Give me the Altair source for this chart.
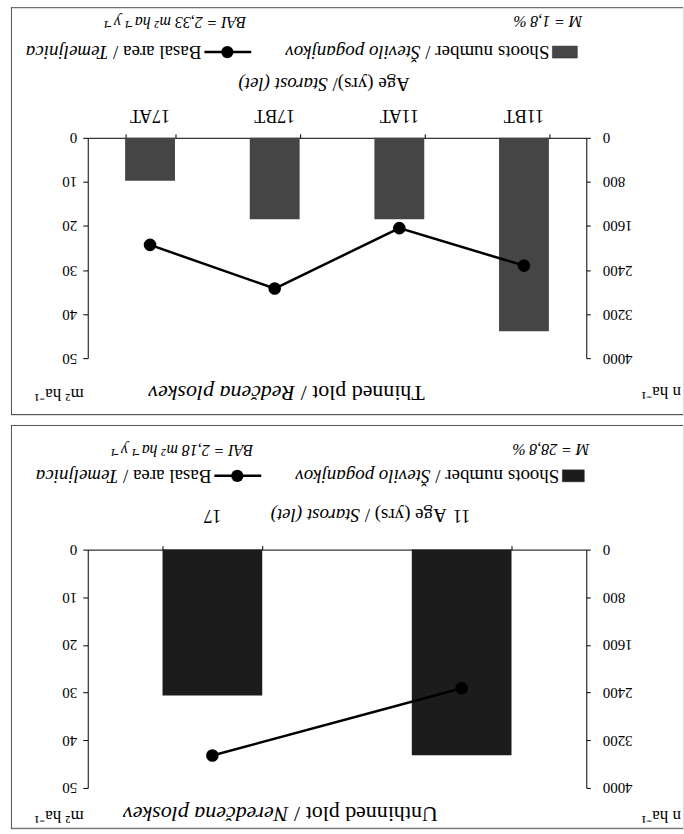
import altair as alt
import pandas as pd

# ---------------- data (as it appears in the picture, left to right) ----------------
top_categories = ["17AT", "17BT", "11AT", "11BT"]
top_shoots = [780, 1480, 1480, 3510]          # Shoots number (n/ha)
top_basal = [24.3, 34.2, 20.5, 29.0]          # Basal area (m2/ha)

bot_categories = ["17", "11"]
bot_shoots = [2450, 3450]
bot_basal = [43.2, 29.1]

shoot_ticks = [0, 800, 1600, 2400, 3200, 4000]
basal_ticks = [0, 10, 20, 30, 40, 50]

SERIF = "Liberation Serif"

W = 674
PLOT_X = [77, 577]

# Times metrics (1/1000 em) for placing mixed regular / italic runs
ROMAN = {' ': 250, '/': 278, '(': 333, ')': 333, '=': 564, ',': 250, '%': 833, '.': 250,
         'A': 722, 'B': 667, 'I': 333, 'M': 889, 'N': 722, 'R': 667, 'S': 556, 'T': 611,
         'U': 722, 'Š': 556, 'a': 444, 'b': 500, 'c': 444, 'd': 500, 'e': 444, 'g': 500,
         'h': 500, 'i': 278, 'j': 278, 'k': 500, 'l': 278, 'm': 778, 'n': 500, 'o': 500,
         'p': 500, 'r': 333, 's': 389, 't': 278, 'u': 500, 'v': 500, 'y': 500, 'č': 444,
         '²': 300, '¹': 300, '⁻': 333}
ITALIC = {' ': 250, '/': 278, '(': 333, ')': 333, '=': 675, ',': 250, '%': 833, '.': 250,
          'A': 611, 'B': 611, 'I': 333, 'M': 833, 'N': 667, 'R': 611, 'S': 500, 'T': 556,
          'Š': 500, 'a': 500, 'e': 444, 'g': 500, 'h': 500, 'i': 278, 'j': 278, 'k': 444,
          'l': 278, 'm': 722, 'n': 500, 'o': 500, 'p': 500, 'r': 389, 's': 389, 't': 278,
          'v': 444, 'y': 444, 'č': 444, '²': 300, '¹': 300, '⁻': 333}


def text_width(txt, italic, size):
    table = ITALIC if italic else ROMAN
    return sum(table.get(ch, 500) for ch in txt) * size / 1000.0


dummy = pd.DataFrame({"d": [0]})


def upside_text(parts, x_right, y, size):
    """Text rotated by 180 degrees; the first run starts at x_right and runs to the left."""
    layers = []
    x = x_right
    for txt, it in parts:
        layers.append(alt.Chart(dummy).mark_text(
            text=txt, angle=180, align="left", baseline="middle", font=SERIF,
            fontSize=size, fontStyle="italic" if it else "normal", color="black"
        ).encode(x=alt.value(x), y=alt.value(y)))
        x -= text_width(txt, it, size)
    return layers


def panel(cats, shoots, basal, H, yr, bar_color, texts, sw, sym):
    df = pd.DataFrame({"cat": cats, "shoots": shoots, "basal": basal})
    xscale = alt.Scale(domain=cats, range=PLOT_X, paddingInner=0.6, paddingOuter=0.3)
    xenc = alt.X("cat:N", scale=xscale, sort=cats,
                 axis=alt.Axis(orient="top", offset=-yr[0], labels=False, title=None,
                               ticks=True, tickBand="extent", tickSize=4, tickColor="black",
                               domainColor="black", grid=False))
    base = alt.Chart(df)
    bars = base.mark_bar(color=bar_color).encode(
        x=xenc,
        y=alt.Y("shoots:Q", scale=alt.Scale(domain=[0, 4000], range=yr, nice=False),
                axis=alt.Axis(orient="right", offset=-(W - PLOT_X[1]), values=shoot_ticks,
                              format="d", labelAngle=180, labelAlign="right",
                              labelBaseline="middle", labelFont=SERIF, labelFontSize=15,
                              labelColor="black", labelPadding=12, tickSize=4,
                              tickColor="black", domainColor="black", grid=False, title=None)),
    )
    line = base.mark_line(color="black", strokeWidth=2.5,
                          point=alt.OverlayMarkDef(filled=True, size=160, color="black")).encode(
        x=alt.X("cat:N", scale=xscale, sort=cats),
        y=alt.Y("basal:Q", scale=alt.Scale(domain=[0, 50], range=yr, nice=False),
                axis=alt.Axis(orient="left", offset=-PLOT_X[0], values=basal_ticks,
                              format="d", labelAngle=180, labelAlign="left",
                              labelBaseline="middle", labelFont=SERIF, labelFontSize=15,
                              labelColor="black", labelPadding=6, tickSize=5,
                              tickColor="black", domainColor="black", grid=False, title=None)),
    )
    catlab = base.mark_text(angle=180, align="center", baseline="middle", font=SERIF,
                            fontSize=18, color="black").encode(
        x=alt.X("cat:N", scale=xscale, sort=cats), y=alt.value(texts["cat_y"]), text="cat:N")

    frame_col = "#555555"
    frame = [
        alt.Chart(dummy).mark_rule(color=frame_col, strokeWidth=1).encode(
            x=alt.value(0), x2=alt.value(W), y=alt.value(0.5)),
        alt.Chart(dummy).mark_rule(color=frame_col, strokeWidth=1).encode(
            x=alt.value(0.5), y=alt.value(0), y2=alt.value(H)),
        alt.Chart(dummy).mark_rule(color=frame_col, strokeWidth=1).encode(
            x=alt.value(0), x2=alt.value(W), y=alt.value(H - 0.5)),
    ]
    # legend symbols
    swatch = alt.Chart(dummy).mark_rect(color=bar_color, stroke="#222", strokeWidth=0.5).encode(
        x=alt.value(sw[0]), x2=alt.value(sw[1]), y=alt.value(sw[2] - 6), y2=alt.value(sw[2] + 6))
    symline = alt.Chart(dummy).mark_rule(color="black", strokeWidth=2.5).encode(
        x=alt.value(sym[0]), x2=alt.value(sym[1]), y=alt.value(sym[3]))
    sympt = alt.Chart(dummy).mark_point(filled=True, size=150, color="black", opacity=1).encode(
        x=alt.value(sym[2]), y=alt.value(sym[3]))

    ann = []
    for parts, xr, yy, size in texts["items"]:
        ann += upside_text(parts, xr, yy, size)

    layer = alt.layer(bars, line, catlab, swatch, symline, sympt, *frame, *ann).resolve_scale(
        y="independent").properties(width=W, height=H)
    return layer


top_texts = {
    "cat_y": 108,
    "items": [
        ([("M = 1,8 %", True)], 573, 14, 16),
        ([("BAI = 2,33 m² ha⁻¹ y⁻¹", True)], 236, 15, 16),
        ([("Shoots number / ", False), ("Število poganjkov", True)], 540, 45, 19),
        ([("Basal area / ", False), ("Temeljnica", True)], 191, 45, 19),
        ([("Age (yrs)/ ", False), ("Starost (let)", True)], 400, 77, 19),
        ([("Thinned plot / ", False), ("Redčena ploskev", True)], 415, 387, 22),
        ([("m² ha⁻¹", False)], 73, 388, 17),
        ([("n ha⁻¹", False)], 672, 386, 17),
    ],
}
bot_texts = {
    "cat_y": 90,
    "items": [
        ([("M = 28,8 %", True)], 580, 24, 16),
        ([("BAI = 2,18 m² ha⁻¹ y⁻¹", True)], 243, 25, 16),
        ([("Shoots number / ", False), ("Število poganjkov", True)], 550, 51, 19),
        ([("Basal area / ", False), ("Temeljnica", True)], 201, 51, 19),
        ([("Age (yrs) / ", False), ("Starost (let)", True)], 437, 90, 19),
        ([("Unthinned plot / ", False), ("Neredčena ploskev", True)], 428, 390, 22),
        ([("m² ha⁻¹", False)], 73, 392, 17),
        ([("n ha⁻¹", False)], 672, 392, 17),
    ],
}

top = panel(top_categories, top_shoots, top_basal, 409, [131, 352], "#454545",
            top_texts, (543, 568, 45), (194, 241, 217, 45))
bot = panel(bot_categories, bot_shoots, bot_basal, 405, [125, 364], "#1c1c1c",
            bot_texts, (553, 575, 51), (204, 251, 227, 51))

chart = alt.vconcat(top, bot, spacing=8).properties(
    padding={"left": 10, "top": 5, "right": 0, "bottom": 0}
).configure_view(strokeWidth=0, stroke="transparent").configure(background="white")

chart.save("out.html", embed_options={"renderer": "svg", "actions": False})
